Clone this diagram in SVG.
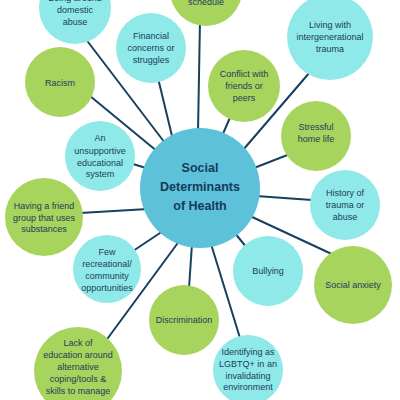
<svg xmlns="http://www.w3.org/2000/svg" width="400" height="400" viewBox="0 0 400 400">
<style>
.c{fill:#8ee9e8}
.g{fill:#a7d45d}
.m{fill:#5cc1d9}
.t{font-family:"Liberation Sans",Arial,sans-serif;font-size:9px;fill:#1d3c5c;text-anchor:middle;dominant-baseline:central}
.h{font-family:"Liberation Sans",Arial,sans-serif;font-size:12.5px;font-weight:bold;fill:#173a5a;text-anchor:middle;dominant-baseline:central}
#connectors line{stroke:#17405f;stroke-width:2;stroke-linecap:round}
</style>
<rect width="400" height="400" fill="#ffffff"/>
<g id="connectors">
<line x1="85" y1="38" x2="165" y2="143"/>
<line x1="158" y1="78" x2="172" y2="136"/>
<line x1="90" y1="96" x2="158" y2="152"/>
<line x1="200" y1="20" x2="198" y2="132"/>
<line x1="310" y1="72" x2="243" y2="150"/>
<line x1="232" y1="113" x2="222" y2="136"/>
<line x1="290" y1="154" x2="254" y2="168"/>
<line x1="312" y1="200" x2="256" y2="196"/>
<line x1="336" y1="256" x2="250" y2="216"/>
<line x1="247" y1="248" x2="234" y2="232"/>
<line x1="240" y1="338" x2="211" y2="244"/>
<line x1="189" y1="288" x2="192" y2="244"/>
<line x1="105" y1="342" x2="180" y2="240"/>
<line x1="133" y1="251" x2="163" y2="231"/>
<line x1="80" y1="213" x2="148" y2="209"/>
<line x1="133" y1="164" x2="146" y2="168"/>
</g>
<g id="center">
<circle class="m" cx="200" cy="188" r="60"/>
<text class="h" x="200" y="168">Social</text>
<text class="h" x="200" y="187">Determinants</text>
<text class="h" x="200" y="206">of Health</text>
</g>
<g id="domestic-abuse">
<circle class="c" cx="75" cy="8" r="36"/>
<text class="t" x="75" y="-2">Being around</text>
<text class="t" x="75" y="10">domestic</text>
<text class="t" x="75" y="22">abuse</text>
</g>
<g id="financial">
<circle class="c" cx="151" cy="48" r="35"/>
<text class="t" x="151" y="36">Financial</text>
<text class="t" x="151" y="48">concerns or</text>
<text class="t" x="151" y="60">struggles</text>
</g>
<g id="racism">
<circle class="g" cx="60" cy="82" r="35"/>
<text class="t" x="60" y="83">Racism</text>
</g>
<g id="schedule">
<circle class="g" cx="206" cy="-10" r="36"/>
<text class="t" x="206" y="2">schedule</text>
</g>
<g id="intergenerational-trauma">
<circle class="c" cx="330" cy="37" r="43"/>
<text class="t" x="330" y="25">Living with</text>
<text class="t" x="330" y="37">intergenerational</text>
<text class="t" x="330" y="49">trauma</text>
</g>
<g id="conflict">
<circle class="g" cx="244" cy="86" r="36"/>
<text class="t" x="244" y="74">Conflict with</text>
<text class="t" x="244" y="86">friends or</text>
<text class="t" x="244" y="98">peers</text>
</g>
<g id="stressful-home">
<circle class="g" cx="316" cy="136" r="35"/>
<text class="t" x="316" y="127">Stressful</text>
<text class="t" x="316" y="139">home life</text>
</g>
<g id="history-trauma">
<circle class="c" cx="345" cy="205" r="35"/>
<text class="t" x="345" y="193">History of</text>
<text class="t" x="345" y="205">trauma or</text>
<text class="t" x="345" y="217">abuse</text>
</g>
<g id="social-anxiety">
<circle class="g" cx="353" cy="285" r="39"/>
<text class="t" x="353" y="285">Social anxiety</text>
</g>
<g id="bullying">
<circle class="c" cx="268" cy="271" r="35"/>
<text class="t" x="268" y="271">Bullying</text>
</g>
<g id="lgbtq">
<circle class="c" cx="248" cy="370" r="35"/>
<text class="t" x="248" y="352">Identifying as</text>
<text class="t" x="248" y="364">LGBTQ+ in an</text>
<text class="t" x="248" y="376">invalidating</text>
<text class="t" x="248" y="387">environment</text>
</g>
<g id="discrimination">
<circle class="g" cx="184" cy="320" r="35"/>
<text class="t" x="184" y="320">Discrimination</text>
</g>
<g id="lack-of-education">
<circle class="g" cx="78" cy="371" r="44"/>
<text class="t" x="78" y="343">Lack of</text>
<text class="t" x="78" y="355">education around</text>
<text class="t" x="78" y="367">alternative</text>
<text class="t" x="78" y="379">coping/tools &amp;</text>
<text class="t" x="78" y="391">skills to manage</text>
</g>
<g id="few-recreational">
<circle class="c" cx="107" cy="269" r="34"/>
<text class="t" x="107" y="252">Few</text>
<text class="t" x="107" y="264">recreational/</text>
<text class="t" x="107" y="276">community</text>
<text class="t" x="107" y="288">opportunities</text>
</g>
<g id="friend-group">
<circle class="g" cx="44" cy="217" r="39"/>
<text class="t" x="44" y="206">Having a friend</text>
<text class="t" x="44" y="218">group that uses</text>
<text class="t" x="44" y="229">substances</text>
</g>
<g id="unsupportive-education">
<circle class="c" cx="100" cy="156" r="35"/>
<text class="t" x="100" y="138">An</text>
<text class="t" x="100" y="151">unsupportive</text>
<text class="t" x="100" y="163">educational</text>
<text class="t" x="100" y="174">system</text>
</g>
</svg>
